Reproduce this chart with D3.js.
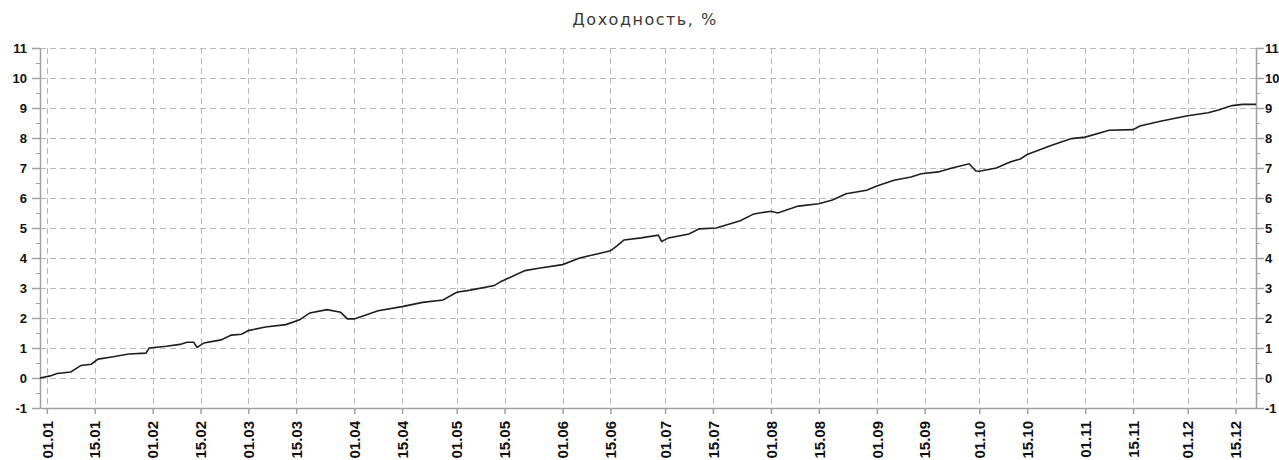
<!DOCTYPE html>
<html>
  <head>
    <meta charset="utf-8" />
    <script src="https://d3js.org/d3.v7.min.js"></script>
    <style>
      body { margin: 0; background: #fff; }
      .grid line { stroke: #b8b8b8; stroke-width: 1px; stroke-dasharray: 6,4; }
      .axis path, .axis line { stroke: #a0a0a0; }
      .axis text { font-family: "Liberation Sans Narrow", "Liberation Sans", sans-serif; font-weight: bold; font-size: 14px; fill: #111; }
      .yaxis text { font-family: "Liberation Sans", sans-serif; font-size: 13px; }
      .title { font-family: "DejaVu Sans", sans-serif; font-size: 16px; fill: #3a3a3a; letter-spacing: 1.5px; }
    </style>
  </head>
  <body>

    <svg id="chart" width="1279" height="460"></svg>

  <script>

  // series: yield, %
  var dates = [
    "2012-12-30","2013-01-02","2013-01-04","2013-01-08","2013-01-11","2013-01-14","2013-01-16",
    "2013-01-20","2013-01-25","2013-01-30","2013-01-31","2013-02-05","2013-02-09","2013-02-11",
    "2013-02-13","2013-02-14","2013-02-16","2013-02-21","2013-02-24","2013-02-27","2013-03-01",
    "2013-03-06","2013-03-12","2013-03-16","2013-03-19","2013-03-24","2013-03-28","2013-03-30",
    "2013-04-01","2013-04-08","2013-04-15","2013-04-21","2013-04-27","2013-05-01","2013-05-05",
    "2013-05-12","2013-05-14","2013-05-21","2013-05-25","2013-06-01","2013-06-06","2013-06-12",
    "2013-06-15","2013-06-17","2013-06-19","2013-06-24","2013-06-29","2013-06-30","2013-07-02",
    "2013-07-08","2013-07-11","2013-07-16","2013-07-23","2013-07-27","2013-08-01","2013-08-03",
    "2013-08-09","2013-08-15","2013-08-19","2013-08-23","2013-08-29","2013-09-01","2013-09-06",
    "2013-09-11","2013-09-14","2013-09-19","2013-09-23","2013-09-28","2013-09-30","2013-10-01",
    "2013-10-06","2013-10-10","2013-10-13","2013-10-15","2013-10-22","2013-10-28","2013-11-01",
    "2013-11-08","2013-11-15","2013-11-17","2013-11-23","2013-12-01","2013-12-07","2013-12-10",
    "2013-12-14","2013-12-17","2013-12-21"
  ];
  var values = [
    0.00, 0.07, 0.15, 0.20, 0.42, 0.46, 0.63,
    0.70, 0.80, 0.83, 1.00, 1.06, 1.12, 1.19,
    1.19, 1.02, 1.17, 1.27, 1.43, 1.46, 1.58,
    1.70, 1.78, 1.94, 2.17, 2.28, 2.19, 1.97,
    1.97, 2.24, 2.38, 2.52, 2.60, 2.86, 2.93,
    3.08, 3.22, 3.58, 3.66, 3.78, 4.00, 4.16,
    4.24, 4.41, 4.60, 4.67, 4.76, 4.55, 4.67,
    4.80, 4.97, 5.00, 5.24, 5.47, 5.56, 5.50,
    5.73, 5.81, 5.93, 6.14, 6.26, 6.40, 6.59,
    6.70, 6.81, 6.87, 7.00, 7.14, 6.90, 6.89,
    7.00, 7.20, 7.30, 7.45, 7.75, 7.98, 8.03,
    8.26, 8.28, 8.40, 8.56, 8.74, 8.84, 8.93,
    9.08, 9.12, 9.12
  ];

  var xTickLabels = [
    "01.01","15.01","01.02","15.02","01.03","15.03","01.04","15.04","01.05","15.05",
    "01.06","15.06","01.07","15.07","01.08","15.08","01.09","15.09","01.10","15.10",
    "01.11","15.11","01.12","15.12"
  ];
  var yTicks = [-1, 0, 1, 2, 3, 4, 5, 6, 7, 8, 9, 10, 11];
  var yMinorTicks = [-0.5, 0.5, 1.5, 2.5, 3.5, 4.5, 5.5, 6.5, 7.5, 8.5, 9.5, 10.5];

  var svg = d3.select("#chart");
  var parse = d3.timeParse("%Y-%m-%d");
  var tickParse = d3.timeParse("%d.%m.%Y");

  var data = dates.map(function(d, i) {
    return { date: parse(d), value: values[i] };
  });
  var tickDates = xTickLabels.map(function(t) { return tickParse(t + ".2013"); });

  var plotLeft = 40, plotRight = 1256, plotTop = 48, plotBottom = 408;

  var x = d3.scaleTime()
    .domain(d3.extent(data, function(d) { return d.date; }))
    .range([plotLeft, plotRight]);

  var y = d3.scaleLinear()
    .domain([-1, 11])
    .range([plotBottom, plotTop]);

  // grid
  var grid = svg.append("g").attr("class", "grid");
  grid.selectAll(".h").data(yTicks.slice(1)).enter().append("line")
    .attr("x1", plotLeft).attr("x2", plotRight)
    .attr("y1", function(d) { return y(d) + 0.5; })
    .attr("y2", function(d) { return y(d) + 0.5; });
  grid.selectAll(".v").data(tickDates).enter().append("line")
    .attr("y1", plotTop).attr("y2", plotBottom)
    .attr("x1", function(d) { return Math.round(x(d)) + 0.5; })
    .attr("x2", function(d) { return Math.round(x(d)) + 0.5; });

  // axes
  var yLeft = svg.append("g").attr("class", "axis yaxis")
    .attr("transform", "translate(" + plotLeft + ",0)")
    .call(d3.axisLeft(y).tickValues(yTicks).tickSize(8).tickSizeOuter(0).tickPadding(5).tickFormat(String));
  var yRight = svg.append("g").attr("class", "axis yaxis")
    .attr("transform", "translate(" + plotRight + ",0)")
    .call(d3.axisRight(y).tickValues(yTicks).tickSize(8).tickSizeOuter(0).tickPadding(1).tickFormat(String));
  svg.append("g").attr("class", "axis")
    .attr("transform", "translate(" + plotLeft + ",0)")
    .call(d3.axisLeft(y).tickValues(yMinorTicks).tickSize(4).tickFormat(""))
    .select(".domain").remove();
  svg.append("g").attr("class", "axis")
    .attr("transform", "translate(" + plotRight + ",0)")
    .call(d3.axisRight(y).tickValues(yMinorTicks).tickSize(4).tickFormat(""))
    .select(".domain").remove();
  [yLeft, yRight].forEach(function(g) {
    g.selectAll(".tick line").attr("stroke-width", 1.5);
    g.select(".domain").attr("stroke-width", 1.5);
  });

  var xAxis = svg.append("g").attr("class", "axis")
    .attr("transform", "translate(0," + plotBottom + ")")
    .call(d3.axisBottom(x).tickValues(tickDates).tickSize(6).tickSizeOuter(0)
      .tickFormat(function(d, i) { return xTickLabels[i]; }));
  xAxis.select(".domain").attr("stroke-width", 1.5);
  xAxis.selectAll(".tick line").attr("stroke-width", 1.5);
  xAxis.selectAll("text")
    .attr("transform", "rotate(-90)")
    .attr("text-anchor", "end")
    .attr("dy", "0.35em")
    .attr("x", -13)
    .attr("y", 0)
    .style("font-size", "15px");

  // line
  var line = d3.line()
    .x(function(d) { return x(d.date); })
    .y(function(d) { return y(d.value); });

  svg.append("path")
    .datum(data)
    .attr("fill", "none")
    .attr("stroke", "#1e1e1e")
    .attr("stroke-width", 1.6)
    .attr("d", line);

  svg.append("text")
    .attr("class", "title")
    .attr("x", 645)
    .attr("y", 25)
    .attr("text-anchor", "middle")
    .text("Доходность, %");

  </script>

  </body>
</html>
